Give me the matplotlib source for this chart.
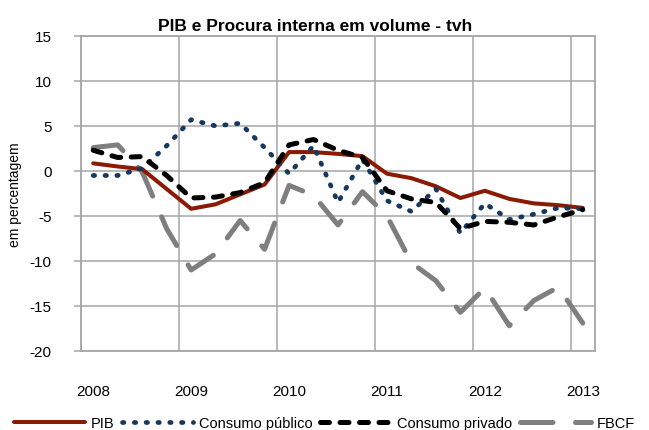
import matplotlib
matplotlib.use("Agg")
import matplotlib.pyplot as plt

plt.rcParams['font.family'] = ['Liberation Sans', 'DejaVu Sans']
plt.rcParams['axes.unicode_minus'] = False

# quarters 2008Q1 .. 2013Q1
year_labels = ["2008", "2009", "2010", "2011", "2012", "2013"]
pib = [0.85, 0.5, 0.2, -2.0, -4.2, -3.7, -2.6, -1.5, 2.1, 2.1, 1.9, 1.65,
       -0.3, -0.8, -1.7, -3.0, -2.2, -3.1, -3.6, -3.8, -4.1]
cons_publico = [-0.5, -0.5, 0.3, 2.8, 5.7, 5.0, 5.3, 2.6, -0.3, 2.8, -3.5, 1.3,
                -3.3, -4.5, -2.0, -6.9, -3.6, -5.4, -4.8, -4.1, -4.2]
cons_privado = [2.3, 1.5, 1.6, -0.5, -3.0, -2.9, -2.4, -1.3, 2.9, 3.5, 2.3, 1.5,
                -2.2, -3.1, -3.5, -6.4, -5.6, -5.7, -6.0, -5.1, -4.3]
fbcf = [2.6, 2.9, -0.1, -6.4, -11.0, -9.2, -5.5, -8.7, -1.6, -2.7, -6.0, -2.3,
        -5.0, -10.2, -12.2, -15.7, -13.0, -17.2, -14.4, -12.9, -16.9]

n = len(pib)
x = [i + 0.5 for i in range(n)]

fig = plt.figure(figsize=(6.49, 4.31), dpi=100)
ax = fig.add_axes([0.1248, 0.1833, 0.792, 0.7309])

grid_c = '#A6A6A6'
h1, = ax.plot(x, pib, color='#8B1A02', lw=2.9, solid_capstyle='round', zorder=3,
              label='PIB')
h2, = ax.plot(x, cons_publico, color='#17375E', lw=3.4, linestyle=(0, (0.3, 2.2)),
              dash_capstyle='round', zorder=4, label='Consumo público')
h3, = ax.plot(x, cons_privado, color='black', lw=3.6, linestyle=(0, (1.8, 2.1)),
              dash_capstyle='round', zorder=5, label='Consumo privado')
h4, = ax.plot(x, fbcf, color='#7F7F7F', lw=3.6, linestyle=(0, (6.5, 4.5)),
              dash_capstyle='round', zorder=2, label='FBCF')

ax.set_xlim(0, n)
ax.set_ylim(-20, 15)
ax.set_yticks(range(-20, 16, 5))
ax.set_xticks([0.5 + 4 * i for i in range(len(year_labels))])
ax.set_xticklabels(year_labels)
for gx in range(0, n, 4):
    ax.axvline(gx, color=grid_c, lw=1.1, zorder=1)
for gy in range(-20, 16, 5):
    ax.axhline(gy, color=grid_c, lw=1.1, zorder=1)

for s in ax.spines.values():
    s.set_color(grid_c)
    s.set_linewidth(1.3)

ax.tick_params(axis='x', length=0, pad=24, labelsize=11)
ax.tick_params(axis='y', length=5, color=grid_c, width=1.1, pad=16, labelsize=11)

ax.set_ylabel('em percentagem', fontsize=10)
ax.yaxis.set_label_coords(-0.115, 0.5)
fig.text(0.486, 0.928, 'PIB e Procura interna em volume - tvh', fontsize=12.5,
         fontweight='bold', ha='center', va='baseline')

fig.legend(handles=[h1, h2, h3, h4], loc='lower center',
           bbox_to_anchor=(0.5, -0.03), ncol=4, frameon=False,
           fontsize=10.5, handlelength=4.9, handletextpad=0.4,
           columnspacing=0.5)

fig.savefig('out.png', dpi=100)
